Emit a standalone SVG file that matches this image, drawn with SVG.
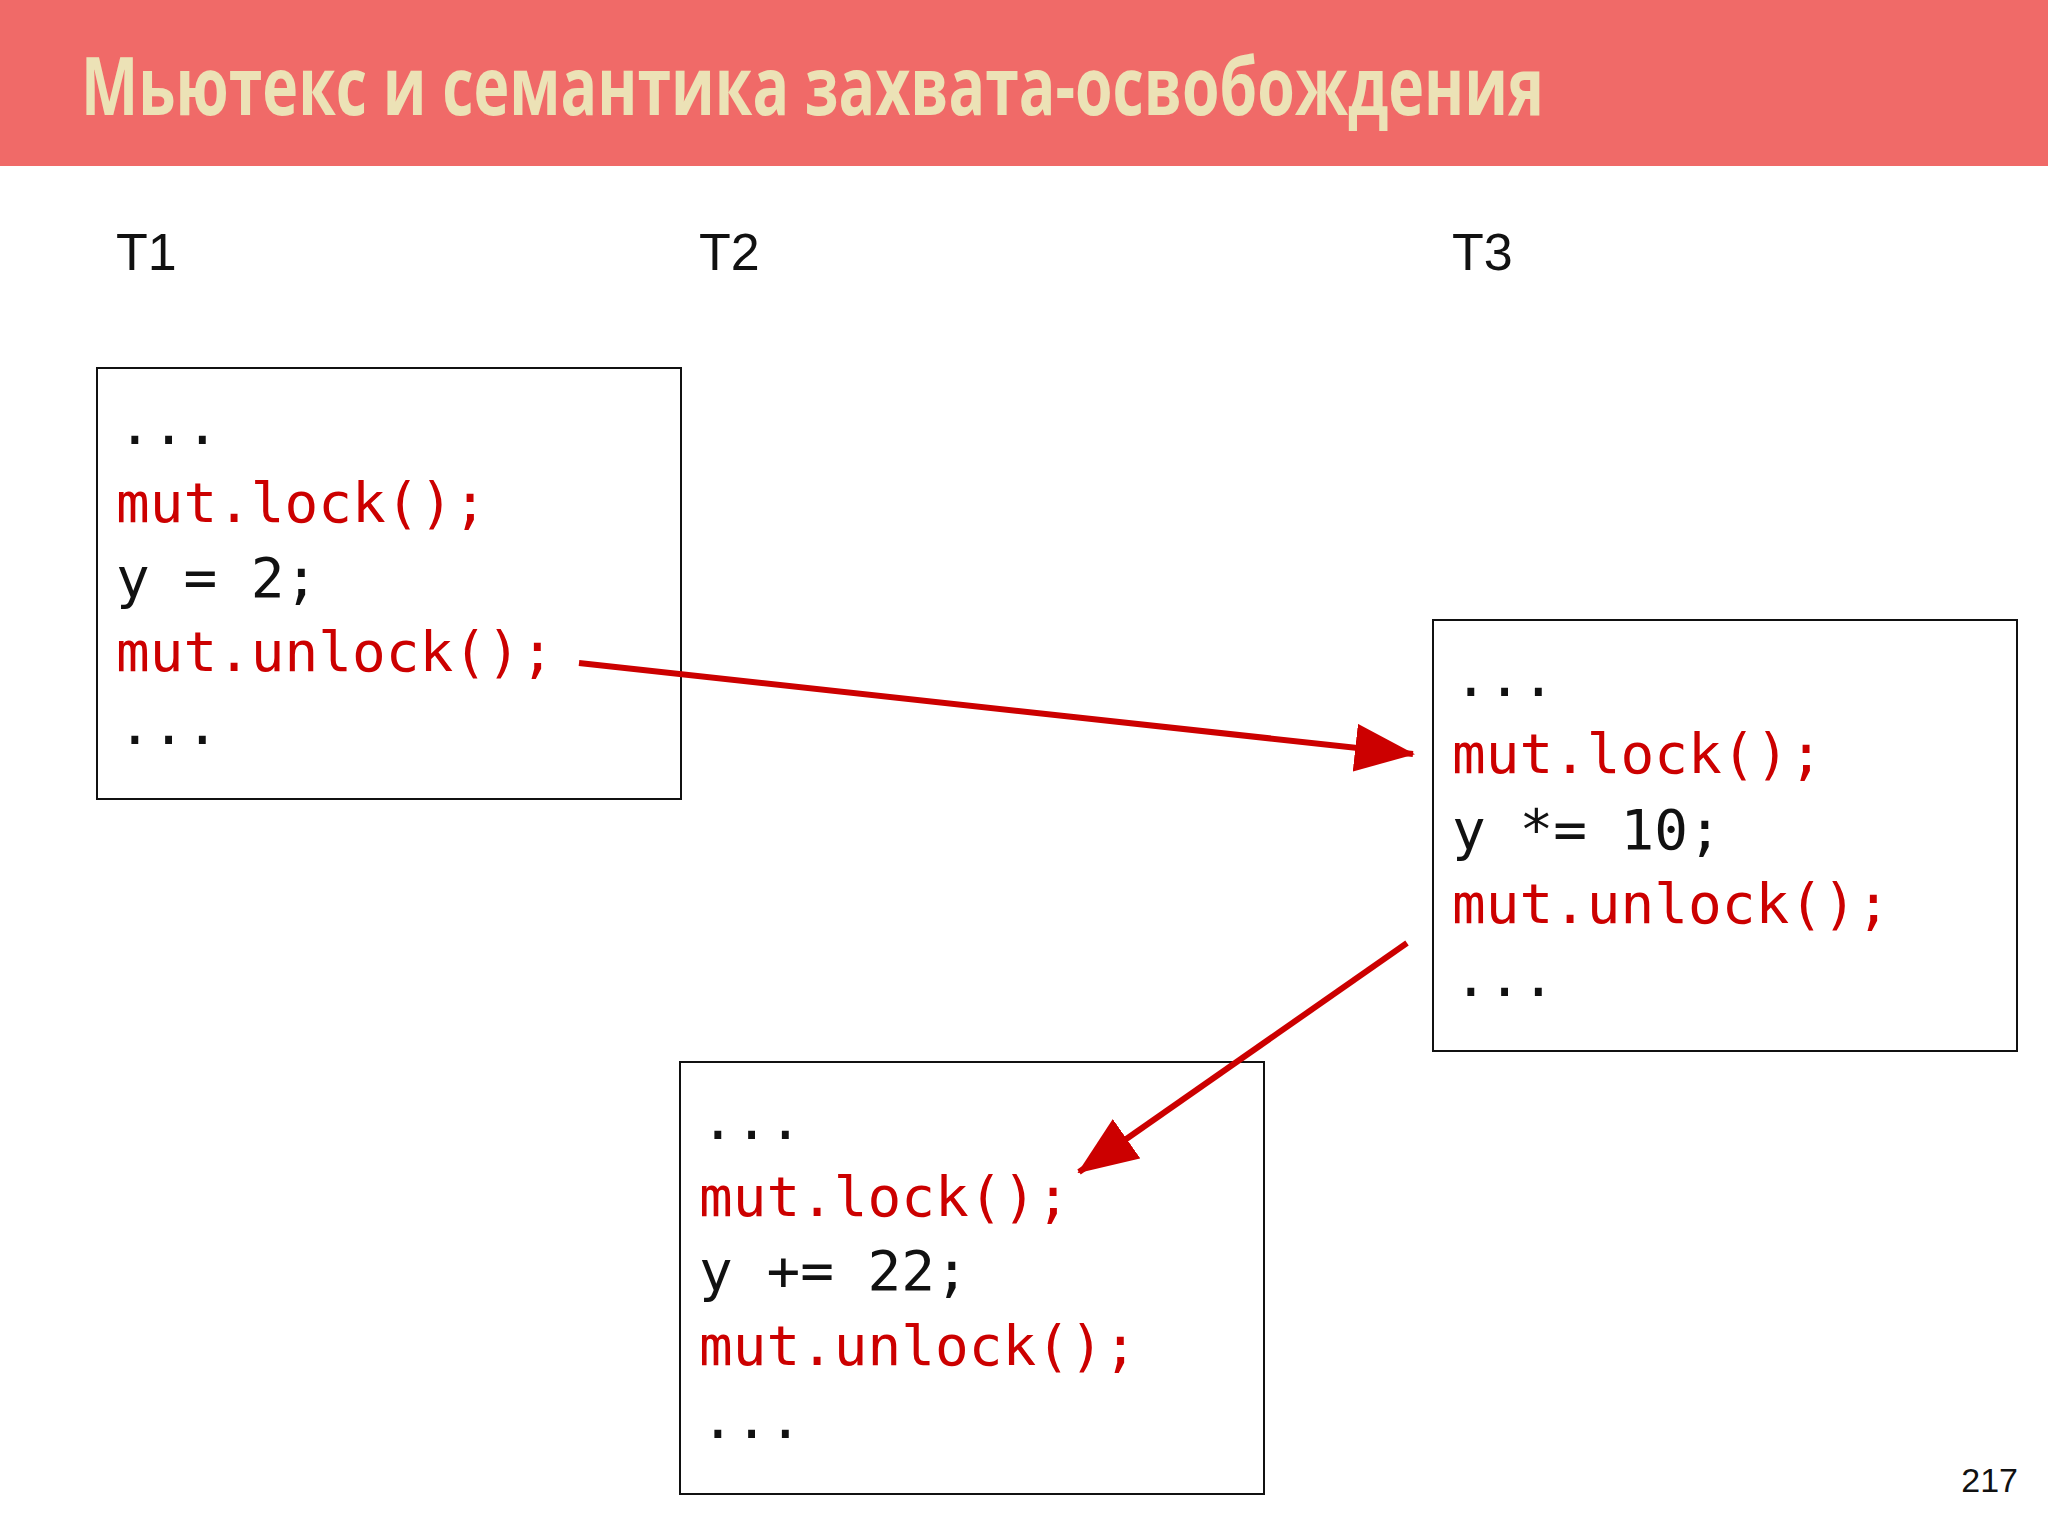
<svg xmlns="http://www.w3.org/2000/svg" width="2048" height="1536" viewBox="0 0 2048 1536">
<style>
.code{font-family:"DejaVu Sans Mono","Liberation Mono",monospace;font-size:56px;fill:#111}
.red{fill:#cc0000}
.lbl{font-family:"Liberation Sans",Arial,sans-serif;font-size:52px;fill:#111}
.box{fill:#fff;stroke:#111;stroke-width:2}
.arr{stroke:#cc0000;stroke-width:6;fill:none;marker-end:url(#ah)}
</style>
<defs>
<marker id="ah" markerUnits="userSpaceOnUse" markerWidth="60" markerHeight="48" refX="58" refY="24" orient="auto">
<path d="M0,0 L60,24 L0,48 Z" fill="#cc0000"/>
</marker>
</defs>
<rect width="2048" height="1536" fill="#fff"/>
<rect x="0" y="0" width="2048" height="166" fill="#f06a68"/>
<text x="81" y="115" font-family="Open Sans,Liberation Sans,sans-serif" font-weight="bold" font-size="80" fill="#ece2b6" textLength="1463" lengthAdjust="spacingAndGlyphs">Мьютекс и семантика захвата-освобождения</text>
<text class="lbl" x="116" y="270">T1</text>
<text class="lbl" x="699" y="270">T2</text>
<text class="lbl" x="1452" y="270">T3</text>
<g id="t1">
<rect class="box" x="97" y="368" width="584" height="431"/>
<text class="code" x="118" y="444">...</text>
<text class="code red" x="116" y="522">mut.lock();</text>
<text class="code" x="116" y="597">y = 2;</text>
<text class="code red" x="116" y="671">mut.unlock();</text>
<text class="code" x="118" y="744">...</text>
</g>
<g id="t3">
<rect class="box" x="1433" y="620" width="584" height="431"/>
<text class="code" x="1454" y="696">...</text>
<text class="code red" x="1452" y="773">mut.lock();</text>
<text class="code" x="1452" y="849">y *= 10;</text>
<text class="code red" x="1452" y="923">mut.unlock();</text>
<text class="code" x="1454" y="996">...</text>
</g>
<g id="t2">
<rect class="box" x="680" y="1062" width="584" height="432"/>
<text class="code" x="701" y="1139">...</text>
<text class="code red" x="699" y="1216">mut.lock();</text>
<text class="code" x="699" y="1290">y += 22;</text>
<text class="code red" x="699" y="1365">mut.unlock();</text>
<text class="code" x="701" y="1438">...</text>
</g>
<g id="connectors">
<line class="arr" x1="579" y1="663" x2="1413" y2="754"/>
<line class="arr" x1="1407" y1="943" x2="1079" y2="1172"/>
</g>
<text x="2018" y="1492" text-anchor="end" font-family="Liberation Sans,Arial,sans-serif" font-size="34" fill="#111">217</text>
</svg>
